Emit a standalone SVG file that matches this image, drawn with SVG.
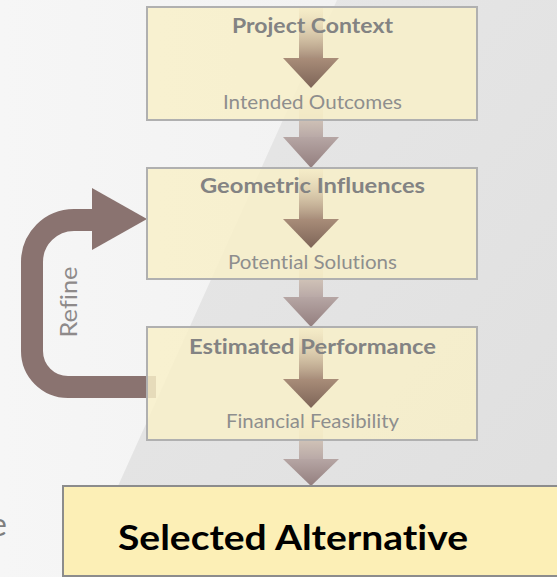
<svg xmlns="http://www.w3.org/2000/svg" width="557" height="577" viewBox="0 0 557 577">
<defs>
<linearGradient id="bgL" x1="0" y1="0" x2="1" y2="0"><stop offset="0" stop-color="#f6f6f6"/><stop offset="1" stop-color="#efefef"/></linearGradient>
<linearGradient id="bgR" x1="0" y1="0" x2="1" y2="1"><stop offset="0" stop-color="#e8e8e8"/><stop offset="1" stop-color="#dfdfdf"/></linearGradient>
<linearGradient id="inShaft" x1="0" y1="0" x2="0" y2="1"><stop offset="0" stop-color="#f4e8c0" stop-opacity="0.4"/><stop offset="1" stop-color="#a88e7b"/></linearGradient>
<linearGradient id="inHead" x1="0" y1="0" x2="0" y2="1"><stop offset="0" stop-color="#a98d79"/><stop offset="1" stop-color="#7d6457"/></linearGradient>
<linearGradient id="btShaft" x1="0" y1="0" x2="0" y2="1"><stop offset="0" stop-color="#eee4cc"/><stop offset="1" stop-color="#b8a8a6"/></linearGradient>
<linearGradient id="btHead" x1="0" y1="0" x2="0" y2="1"><stop offset="0" stop-color="#b6a6a4"/><stop offset="1" stop-color="#937e7e"/></linearGradient>
</defs>
<style>
text{font-variant-ligatures:none;font-family:Lato,"Open Sans",sans-serif}
.box{fill:#f8f0c8;fill-opacity:0.84;stroke:#b0b0b0;stroke-width:2}
.final{fill:#fcefb6;stroke:#8c8c8c;stroke-width:2}
.title{font-weight:bold;font-size:21px;fill:#838383;text-anchor:middle}
.sub{font-size:20px;fill:#8e8e8e;text-anchor:middle}
.big{font-weight:bold;font-size:35px;fill:#000;text-anchor:middle}
.refine{font-size:24px;fill:#8e8a8a;text-anchor:middle}
</style>
<g id="background">
<rect x="0" y="0" width="557" height="577" fill="url(#bgL)"/>
<polygon points="337,0 557,0 557,577 77,577" fill="url(#bgR)"/>
</g>
<g id="connectors">
<g id="refine-arrow">
<path d="M 156 387 H 68 A 36 36 0 0 1 32 351 V 262 A 42 42 0 0 1 74 220 H 96" fill="none" stroke="#8a7370" stroke-width="22"/>
<polygon points="92,188 147,219 92,250" fill="#8a7370"/>
</g>
<g id="arrow-1-2">
<rect x="299" y="95" width="24" height="43" fill="url(#btShaft)"/>
<polygon points="283,137 339,137 311,168" fill="url(#btHead)"/>
</g>
<g id="arrow-2-3">
<rect x="299" y="255" width="24" height="43" fill="url(#btShaft)"/>
<polygon points="283,297 339,297 311,327" fill="url(#btHead)"/>
</g>
<g id="arrow-3-4">
<rect x="299" y="415" width="24" height="45" fill="url(#btShaft)"/>
<polygon points="283,459 339,459 311,486" fill="url(#btHead)"/>
</g>
</g>
<g id="node-project-context">
<rect class="box" x="147" y="7" width="330" height="113"/>
<rect x="299" y="8" width="24" height="50" fill="url(#inShaft)"/>
<polygon points="283,58 339,58 311,88" fill="url(#inHead)"/>
<text class="title" x="312.5" y="33" textLength="161" lengthAdjust="spacingAndGlyphs">Project Context</text>
<text class="sub" x="312.5" y="109" textLength="179" lengthAdjust="spacingAndGlyphs">Intended Outcomes</text>
</g>
<g id="node-geometric-influences">
<rect class="box" x="147" y="168" width="330" height="111"/>
<rect x="299" y="169" width="24" height="50" fill="url(#inShaft)"/>
<polygon points="283,219 339,219 311,248" fill="url(#inHead)"/>
<text class="title" x="312.5" y="193" textLength="225" lengthAdjust="spacingAndGlyphs">Geometric Influences</text>
<text class="sub" x="312.5" y="269" textLength="169" lengthAdjust="spacingAndGlyphs">Potential Solutions</text>
</g>
<g id="node-estimated-performance">
<rect class="box" x="147" y="327" width="330" height="113"/>
<rect x="299" y="328" width="24" height="51" fill="url(#inShaft)"/>
<polygon points="283,379 339,379 311,408" fill="url(#inHead)"/>
<text class="title" x="312.5" y="354" textLength="247" lengthAdjust="spacingAndGlyphs">Estimated Performance</text>
<text class="sub" x="312.5" y="428" textLength="173" lengthAdjust="spacingAndGlyphs">Financial Feasibility</text>
</g>
<g id="node-selected-alternative">
<rect class="final" x="63" y="486" width="500" height="90"/>
<text class="big" x="293" y="550" textLength="350" lengthAdjust="spacingAndGlyphs">Selected Alternative</text>
</g>
<g id="label-refine">
<text class="refine" transform="translate(77,302) rotate(-90)" x="0" y="0" textLength="71" lengthAdjust="spacingAndGlyphs">Refine</text>
</g>
<text x="7" y="536" font-size="32" fill="#7e7e7e" text-anchor="end">e</text>
</svg>
